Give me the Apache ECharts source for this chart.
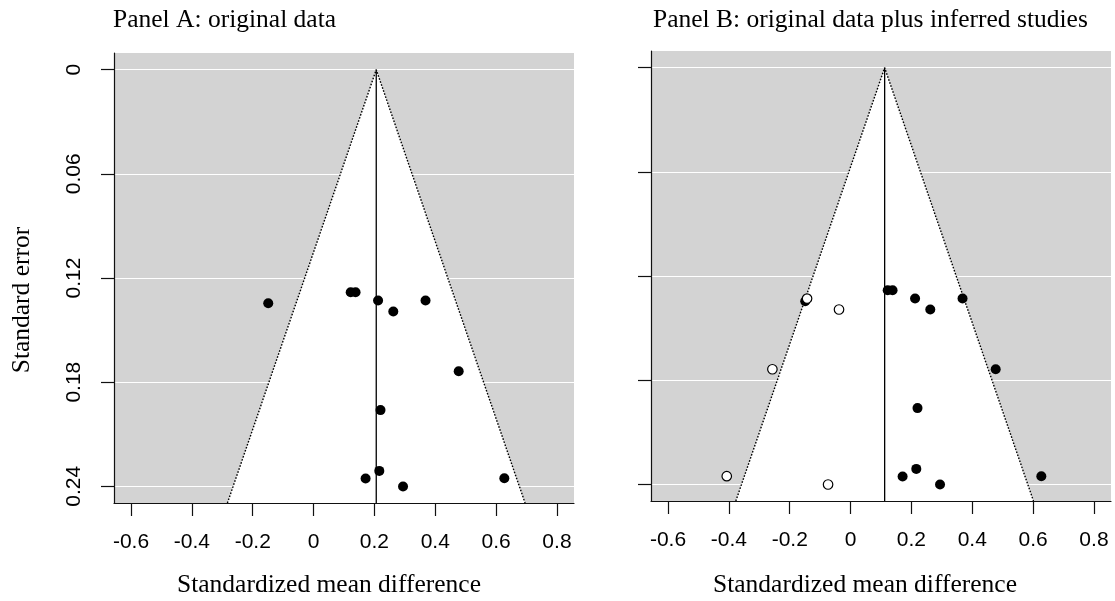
<!DOCTYPE html>
<html>
<head>
<meta charset="utf-8">
<script src="https://cdn.jsdelivr.net/npm/echarts@6/dist/echarts.min.js"></script>
<style>
html, body { margin: 0; padding: 0; background: #fff; }
#chart { width: 1115px; height: 601px; }
</style>
</head>
<body>
<div id="chart"></div>
<script>
// observed studies: standardized mean difference and its standard error
const obsEffect = [-0.149, 0.122, 0.138, 0.212, 0.368, 0.262, 0.477, 0.220, 0.216, 0.171, 0.294, 0.627];
const obsSe = [0.1345, 0.1282, 0.1282, 0.1330, 0.1330, 0.1393, 0.1737, 0.1961, 0.2311, 0.2355, 0.2401, 0.2353];
// inferred (trim and fill) studies, panel B only
const fillEffect = [-0.143, -0.038, -0.257, -0.407, -0.074];
const fillSe = [0.1330, 0.1393, 0.1737, 0.2353, 0.2401];
// pooled estimates
const centerA = 0.206;
const centerB = 0.112;
// axes
const xTicks = [-0.6, -0.4, -0.2, 0, 0.2, 0.4, 0.6, 0.8];
const yTicks = [0, 0.06, 0.12, 0.18, 0.24];
const xRange = [-0.656, 0.856];
const yRange = [-0.0096, 0.2496];

const serif = "'Liberation Serif', 'DejaVu Serif', serif";
const sans = "'Liberation Sans', Arial, sans-serif";
const ink = '#000';

function pairs(xs, ys) {
  return xs.map((x, i) => [x, ys[i]]);
}

// 95% pseudo confidence region: centre +/- 1.96 * se, down to the bottom of the plot
function funnelTri(c) {
  const s = yRange[1];
  return [[c, 0], [c - 1.96 * s, s], [c + 1.96 * s, s]];
}

function panelSeries(i, c) {
  const tri = funnelTri(c);
  return [
    {
      type: 'custom', xAxisIndex: i, yAxisIndex: i, z: 1, silent: true,
      data: tri,
      renderItem: function (params, api) {
        if (params.dataIndex !== 0) return null;
        const pts = tri.map(p => api.coord(p));
        return { type: 'polygon', shape: { points: pts }, style: { fill: '#fff' } };
      }
    },
    {
      type: 'line', xAxisIndex: i, yAxisIndex: i, z: 2, silent: true,
      symbol: 'none',
      data: [tri[1], tri[0], tri[2]],
      lineStyle: { type: [1.6, 1.6], width: 1.4, color: ink }
    },
    {
      type: 'line', xAxisIndex: i, yAxisIndex: i, z: 2, silent: true,
      symbol: 'none',
      data: [[c, 0], [c, yRange[1]]],
      lineStyle: { width: 1.3, color: ink }
    },
    {
      type: 'scatter', xAxisIndex: i, yAxisIndex: i, z: 3,
      symbolSize: 10,
      data: pairs(obsEffect, obsSe),
      itemStyle: { color: ink, opacity: 1 }
    }
  ];
}

const axisLineStyle = { color: '#111', width: 1.2 };

function xAxisFor(i) {
  return {
    gridIndex: i, type: 'value', min: xRange[0], max: xRange[1], z: 5,
    axisLine: { show: true, onZero: false, lineStyle: axisLineStyle },
    axisTick: { show: true, length: 13, customValues: xTicks, lineStyle: axisLineStyle },
    axisLabel: {
      customValues: xTicks, fontSize: 21, fontFamily: sans, color: ink, margin: 29,
      formatter: v => String(v)
    },
    splitLine: { show: false }
  };
}

function yAxisFor(i) {
  return {
    gridIndex: i, type: 'value', inverse: true, min: yRange[0], max: yRange[1],
    axisLine: { show: true, onZero: false, lineStyle: axisLineStyle },
    axisTick: { show: true, length: 13, customValues: yTicks, lineStyle: axisLineStyle },
    axisLabel: i === 0 ? {
      customValues: yTicks, fontSize: 21, fontFamily: sans, color: ink, margin: 29, rotate: 90,
      formatter: v => String(v)
    } : { show: false, customValues: yTicks },
    splitLine: { show: true, lineStyle: { color: '#fff', width: 1.2 } }
  };
}

const chart = echarts.init(document.getElementById('chart'));
const option = {
  animation: false,
  backgroundColor: '#fff',
  grid: [
    { left: 114, top: 53, width: 460, height: 450, show: true, backgroundColor: '#d3d3d3', borderWidth: 0 },
    { left: 651, top: 51, width: 460, height: 450, show: true, backgroundColor: '#d3d3d3', borderWidth: 0 }
  ],
  xAxis: [xAxisFor(0), xAxisFor(1)],
  yAxis: [yAxisFor(0), yAxisFor(1)],
  graphic: [
    { type: 'text', left: 113, top: 7, style: { text: 'Panel A: original data', font: '25.5px ' + serif, fill: ink } },
    { type: 'text', left: 653, top: 7, style: { text: 'Panel B: original data plus inferred studies', font: '25.5px ' + serif, fill: ink } },
    { type: 'text', x: 329, y: 585, style: { text: 'Standardized mean difference', font: '25.5px ' + serif, fill: ink, align: 'center', verticalAlign: 'middle' } },
    { type: 'text', x: 865, y: 585, style: { text: 'Standardized mean difference', font: '25.5px ' + serif, fill: ink, align: 'center', verticalAlign: 'middle' } },
    { type: 'text', x: 22, y: 300, rotation: Math.PI / 2, style: { text: 'Standard error', font: '25.5px ' + serif, fill: ink, align: 'center', verticalAlign: 'middle' } }
  ],
  series: [
    ...panelSeries(0, centerA),
    ...panelSeries(1, centerB),
    {
      type: 'scatter', xAxisIndex: 1, yAxisIndex: 1, z: 4,
      symbolSize: 9.5,
      data: pairs(fillEffect, fillSe),
      itemStyle: { color: '#fff', borderColor: ink, borderWidth: 1.2, opacity: 1 }
    }
  ]
};
chart.setOption(option);
</script>
</body>
</html>
